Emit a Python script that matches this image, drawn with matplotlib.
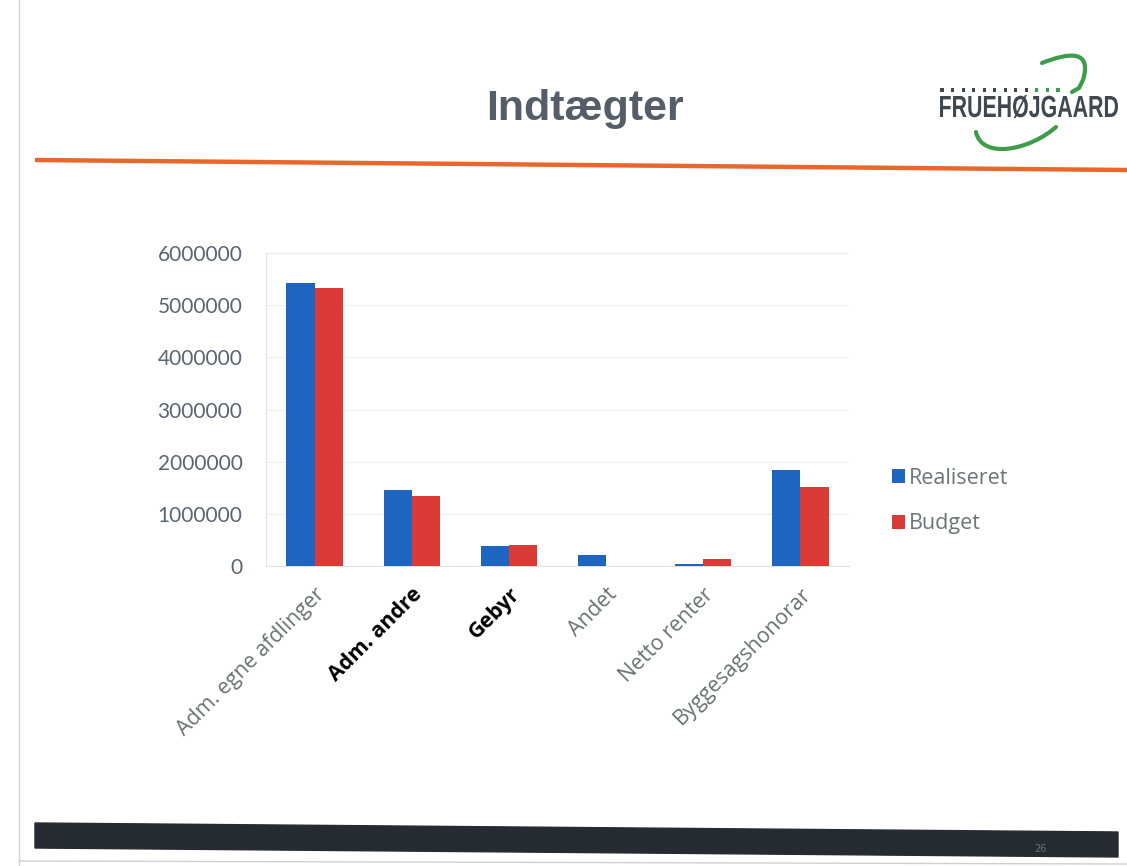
import numpy as np
import matplotlib
matplotlib.use('Agg')
import matplotlib.pyplot as plt
from matplotlib.patches import Polygon, PathPatch
from matplotlib.path import Path
from matplotlib.textpath import TextPath
from matplotlib.font_manager import FontProperties
from matplotlib.transforms import Affine2D

categories = ['Adm. egne afdlinger', 'Adm. andre', 'Gebyr', 'Andet', 'Netto renter', 'Byggesagshonorar']
realiseret = [5430000, 1450000, 390000, 210000, 40000, 1840000]
budget = [5330000, 1340000, 400000, 0, 140000, 1520000]
yticks = [0, 1000000, 2000000, 3000000, 4000000, 5000000, 6000000]
bold_labels = ['Adm. andre', 'Gebyr']

W, H = 1127, 866
fig = plt.figure(figsize=(W / 100, H / 100), dpi=100)
fig.patch.set_facecolor('white')

def fx(px):
    return px / W

def fy(py):
    return 1 - py / H

# overlay in pixel coords for the slide decorations
deco = fig.add_axes([0, 0, 1, 1])
deco.set_xlim(0, W)
deco.set_ylim(H, 0)
deco.axis('off')

deco.plot([35, 1127], [160, 170], color='#e9672b', lw=3.2, solid_capstyle='butt')
deco.add_patch(Polygon([[35, 823], [1118, 832], [1118, 857], [35, 848]], closed=True, color='#262b31'))
deco.text(1040, 849, '26', color='#6d7378', fontsize=7, va='center', ha='center')
deco.plot([19, 19], [0, 866], color='#d5d5d5', lw=1)
deco.plot([19, 1127], [861, 864], color='#cfcfcf', lw=1)

deco.text(585, 109, 'Indtægter', ha='center', va='center', fontsize=31, weight='bold',
          family='Liberation Sans', color='#545d68')

# logo: squeezed bold text
tp = TextPath((0, 0), 'FRUEHØJGAARD', size=20,
              prop=FontProperties(family='Liberation Sans', weight='bold'))
ext = tp.get_extents()
cap = TextPath((0, 0), 'F', size=20, prop=FontProperties(family='Liberation Sans', weight='bold')).get_extents()
tr = Affine2D().translate(-ext.x0, 0).scale(178 / ext.width, -21 / cap.y1).translate(940, 117)
deco.add_patch(PathPatch(tr.transform_path(tp), facecolor='#3f4850', edgecolor='none'))
dot_x = np.linspace(942, 1058, 12)
dot_c = ['#3f4850'] * 9 + ['#3c9c4a'] * 3
deco.scatter(dot_x, [90] * 12, s=5, marker='s', c=dot_c, linewidths=0)
upper = Path([(1042, 63), (1070, 52), (1092, 50), (1083, 80), (1079, 88), (1072, 92)],
             [Path.MOVETO, Path.CURVE4, Path.CURVE4, Path.CURVE4, Path.LINETO, Path.LINETO])
lower = Path([(976, 132), (982, 160), (1030, 150), (1056, 127)],
             [Path.MOVETO, Path.CURVE4, Path.CURVE4, Path.CURVE4])
for p in (upper, lower):
    deco.add_patch(PathPatch(p, fill=False, edgecolor='#3c9c4a', lw=3, capstyle='round'))

# chart
ax = fig.add_axes([fx(266), fy(566), fx(849) - fx(266), fy(253) - fy(566)])
x = np.arange(len(categories))
bw = 0.29
ax.bar(x - bw / 2, realiseret, bw, color='#1d65c0', label='Realiseret', zorder=3)
ax.bar(x + bw / 2, budget, bw, color='#db3b36', label='Budget', zorder=3)

ax.set_xlim(-0.5, len(categories) - 0.5)
ax.set_ylim(0, 6000000)
ax.set_yticks(yticks)
ax.set_yticklabels([str(v) for v in yticks])
ax.grid(axis='y', color='#ececec', lw=0.8, zorder=0)
for s in ['top', 'right']:
    ax.spines[s].set_visible(False)
ax.spines['left'].set_color('#e2e2e2')
ax.spines['bottom'].set_color('#e2e2e2')
ax.tick_params(axis='y', length=0, pad=17, labelsize=15, labelcolor='#5a6570')
ax.tick_params(axis='x', length=0, pad=13)
for lbl in ax.get_yticklabels():
    lbl.set_family('Lato')

ax.set_xticks(x)
ax.set_xticklabels(categories, rotation=45, ha='right', rotation_mode='anchor')
for lbl in ax.get_xticklabels():
    lbl.set_family('Open Sans')
    lbl.set_fontsize(15.3)
    if lbl.get_text() in bold_labels:
        lbl.set_color('black')
        lbl.set_weight('bold')
    else:
        lbl.set_color('#6c6f72')

leg = fig.legend(loc='center left', bbox_to_anchor=(fx(873), fy(501)), frameon=False,
                 handlelength=0.6, handleheight=0.6, handletextpad=0.15, labelspacing=1.15,
                 prop={'family': 'Open Sans', 'size': 15.5})
for t in leg.get_texts():
    t.set_color('#6c7478')

fig.savefig('out.png', dpi=100)
